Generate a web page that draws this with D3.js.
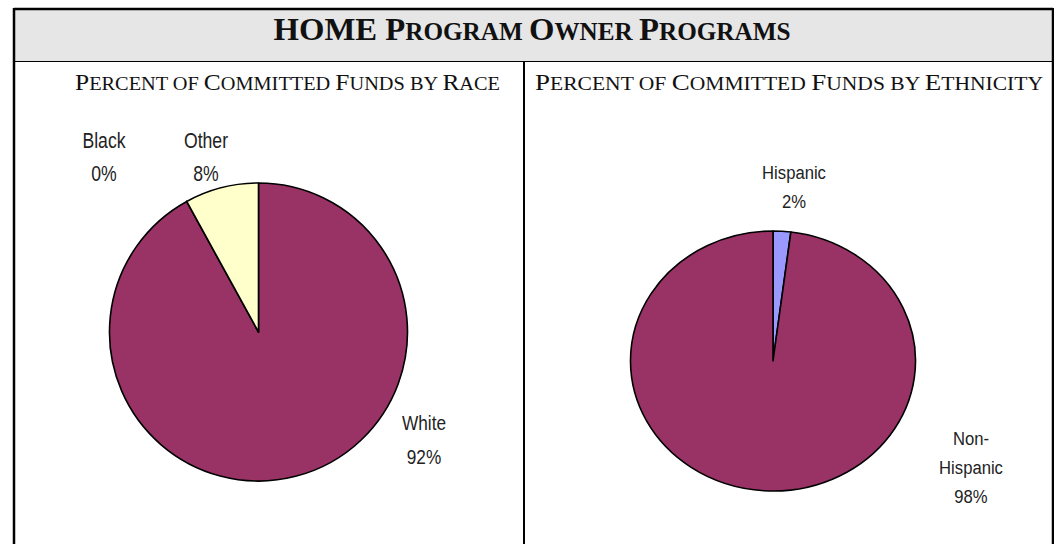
<!DOCTYPE html>
<html><head><meta charset="utf-8">
<script src="https://cdn.jsdelivr.net/npm/d3@7"></script>
<style>
html,body{margin:0;padding:0;background:#fff;}
svg{display:block;}
</style></head>
<body>
<script>
// ---- data ----
const title = "HOME Program Owner Programs";
const raceTitle = "Percent of Committed Funds by Race";
const ethTitle = "Percent of Committed Funds by Ethnicity";
const raceCategories = ["White", "Black", "Other"];
const raceValues = [92, 0, 8];
const raceColors = ["#993366", "#993366", "#FFFFCC"];
const ethCategories = ["Hispanic", "Non-Hispanic"];
const ethValues = [2, 98];
const ethColors = ["#9999FF", "#993366"];

const W = 1054, H = 544;
const svg = d3.select("body").append("svg").attr("width", W).attr("height", H);

// frame
svg.append("rect").attr("x", 14).attr("y", 9).attr("width", 1039).attr("height", 53)
  .attr("fill", "#e6e6e6");
svg.append("line").attr("x1", 14).attr("x2", 1053).attr("y1", 9).attr("y2", 9).attr("stroke", "#000").attr("stroke-width", 2.5);
svg.append("line").attr("x1", 14).attr("x2", 14).attr("y1", 8).attr("y2", H).attr("stroke", "#000").attr("stroke-width", 2.5);
svg.append("line").attr("x1", 1053).attr("x2", 1053).attr("y1", 8).attr("y2", H).attr("stroke", "#000").attr("stroke-width", 2.5);
svg.append("line").attr("x1", 14).attr("x2", 1053).attr("y1", 61.5).attr("y2", 61.5).attr("stroke", "#000").attr("stroke-width", 1.2);
svg.append("line").attr("x1", 524).attr("x2", 524).attr("y1", 62).attr("y2", H).attr("stroke", "#000").attr("stroke-width", 2);

// small caps helper
function smallCaps(sel, text, size, ratio) {
  const runs = [];
  for (const ch of text) {
    const big = ch === ch.toUpperCase() && ch !== ch.toLowerCase();
    const isSpace = ch === " ";
    const kind = isSpace ? (runs.length ? runs[runs.length-1].big : true) : big;
    if (runs.length && runs[runs.length-1].big === kind) runs[runs.length-1].t += ch;
    else runs.push({big: kind, t: ch});
  }
  runs.forEach(r => sel.append("tspan").attr("font-size", r.big ? size : size * ratio).text(r.t.toUpperCase()));
}

const t = svg.append("text").attr("x", 532).attr("y", 40).attr("text-anchor", "middle")
  .attr("font-family", "Liberation Serif, Times New Roman, serif").attr("font-weight", "bold")
  .attr("fill", "#111").attr("textLength", 517).attr("lengthAdjust", "spacingAndGlyphs");
smallCaps(t, title, 32, 0.77);

const s1 = svg.append("text").attr("x", 287.5).attr("y", 90).attr("text-anchor", "middle")
  .attr("font-family", "Liberation Serif, Times New Roman, serif")
  .attr("fill", "#111").attr("textLength", 425).attr("lengthAdjust", "spacingAndGlyphs");
smallCaps(s1, raceTitle, 24, 0.8);
const s2 = svg.append("text").attr("x", 789).attr("y", 90).attr("text-anchor", "middle")
  .attr("font-family", "Liberation Serif, Times New Roman, serif")
  .attr("fill", "#111").attr("textLength", 508).attr("lengthAdjust", "spacingAndGlyphs");
smallCaps(s2, ethTitle, 24, 0.8);

// pies
const pie = d3.pie().sort(null).value(d => d.v);

function drawPie(cats, vals, cols, cx, cy, rx, ry) {
  const r = 100;
  const arc = d3.arc().innerRadius(0).outerRadius(r);
  const g = svg.append("g").attr("transform", `translate(${cx},${cy}) scale(${rx/r},${ry/r})`);
  const data = cats.map((c, i) => ({c, v: vals[i], col: cols[i]}));
  g.selectAll("path").data(pie(data)).join("path")
    .attr("d", arc).attr("fill", d => d.data.col)
    .attr("stroke", "#000").attr("stroke-width", 1.6)
    .attr("vector-effect", "non-scaling-stroke").attr("stroke-linejoin", "round");
}
drawPie(raceCategories, raceValues, raceColors, 258.5, 332, 149, 149);
drawPie(ethCategories, ethValues, ethColors, 773, 361, 142.5, 130);

function label(lines, cx, y0, gap, size, sx) {
  lines.forEach((ln, i) => {
    svg.append("text")
      .attr("transform", `translate(${cx},${y0 + i*gap}) scale(${sx},1)`)
      .attr("text-anchor", "middle")
      .attr("font-family", "Liberation Sans, Arial, sans-serif")
      .attr("font-size", size).attr("fill", "#222").text(ln);
  });
}
const pct = v => Math.round(v) + "%";
label([raceCategories[1], pct(raceValues[1])], 104, 148, 33, 21.5, 0.82);
label([raceCategories[2], pct(raceValues[2])], 206, 148, 33, 21.5, 0.82);
label([raceCategories[0], pct(raceValues[0])], 424, 430, 34, 21, 0.82);
label([ethCategories[0], pct(ethValues[0])], 794, 179, 29, 18.5, 0.9);
label(["Non-", "Hispanic", pct(ethValues[1])], 971, 445, 29, 18.5, 0.9);
</script>
</body></html>
